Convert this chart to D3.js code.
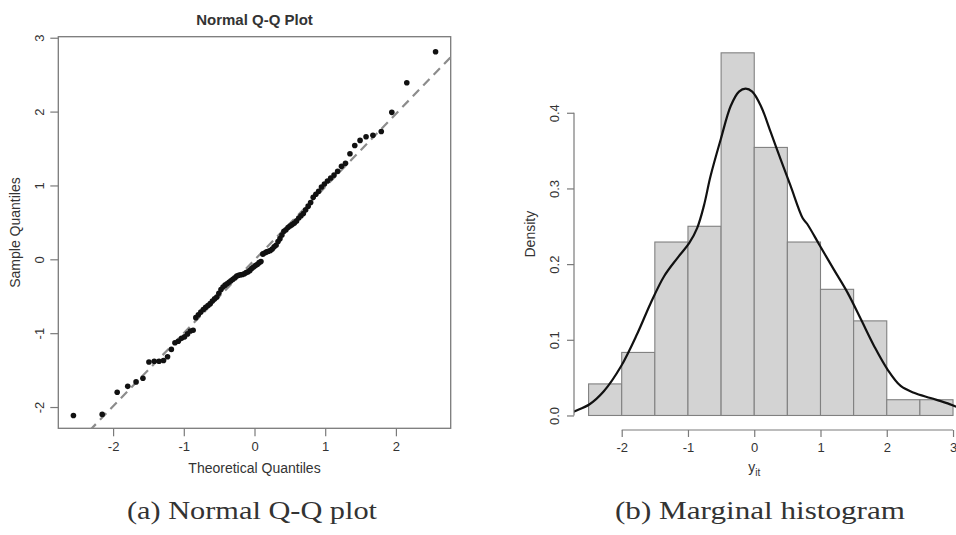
<!DOCTYPE html>
<html>
<head>
<meta charset="utf-8">
<script src="https://cdn.jsdelivr.net/npm/d3@7/dist/d3.min.js"></script>
<style>
  html, body { margin: 0; padding: 0; background: #fff; }
  svg { display: block; }
  text { font-family: "Liberation Sans", Arial, sans-serif; fill: #333; }
</style>
</head>
<body>
<svg id="chart" width="956" height="535"></svg>
<script>
// ---------- data ----------
// Q-Q plot: theoretical quantiles (n = 96)
const qqTheoretical = [
  -2.561, -2.154, -1.942, -1.793, -1.675, -1.578, -1.493, -1.418, -1.350, -1.287,
  -1.230, -1.176, -1.125, -1.078, -1.032, -0.989, -0.947, -0.907, -0.868, -0.830,
  -0.794, -0.759, -0.724, -0.691, -0.658, -0.626, -0.595, -0.564, -0.533, -0.504,
  -0.474, -0.445, -0.416, -0.388, -0.360, -0.333, -0.305, -0.278, -0.251, -0.224,
  -0.197, -0.171, -0.144, -0.118, -0.091, -0.065, -0.039, -0.013,
   0.013,  0.039,  0.065,  0.091,  0.118,  0.144,  0.171,  0.197,  0.224,  0.251,
   0.278,  0.305,  0.333,  0.360,  0.388,  0.416,  0.445,  0.474,  0.504,  0.533,
   0.564,  0.595,  0.626,  0.658,  0.691,  0.724,  0.759,  0.794,  0.830,  0.868,
   0.907,  0.947,  0.989,  1.032,  1.078,  1.125,  1.176,  1.230,  1.287,  1.350,
   1.418,  1.493,  1.578,  1.675,  1.793,  1.942,  2.154,  2.561
];
// Q-Q plot: sample quantiles
const qqSample = [
  -2.115, -2.10, -1.80, -1.72, -1.66, -1.61, -1.39, -1.38, -1.38, -1.37,
  -1.32, -1.22, -1.13, -1.11, -1.07, -1.05, -1.01, -0.97, -0.96, -0.79,
  -0.75, -0.715, -0.68, -0.65, -0.625, -0.60, -0.565, -0.535, -0.51, -0.46,
  -0.41, -0.375, -0.35, -0.33, -0.31, -0.29, -0.27, -0.25, -0.225, -0.215,
  -0.21, -0.205, -0.195, -0.18, -0.17, -0.15, -0.125, -0.105,
  -0.085, -0.07, -0.045, -0.03, 0.07, 0.085, 0.10, 0.11, 0.12, 0.14,
  0.17, 0.19, 0.24, 0.28, 0.33, 0.38, 0.40, 0.43, 0.45, 0.47,
  0.49, 0.52, 0.56, 0.59, 0.62, 0.67, 0.72, 0.77, 0.84, 0.88,
  0.92, 0.98, 1.02, 1.06, 1.10, 1.14, 1.19, 1.26, 1.30, 1.43,
  1.54, 1.61, 1.66, 1.68, 1.73, 1.99, 2.39, 2.81
];
// Q-Q reference line (intercept, slope)
const qqLineIntercept = -0.01;
const qqLineSlope = 0.99;
const qqXTicks = [-2, -1, 0, 1, 2];
const qqYTicks = [-2, -1, 0, 1, 2, 3];

// Histogram
const histEdges = [-2.5, -2, -1.5, -1, -0.5, 0, 0.5, 1, 1.5, 2, 2.5, 3];
const histDensity = [0.0417, 0.0833, 0.2292, 0.25, 0.4792, 0.3542, 0.2292, 0.1667, 0.125, 0.0208, 0.0208];
// Kernel density curve
const densX = [-2.75, -2.71, -2.49, -2.27, -2.01, -1.76, -1.56, -1.36, -1.16, -0.98, -0.86, -0.76,
  -0.66, -0.505, -0.355, -0.23, -0.13, -0.03, 0.10, 0.25, 0.40, 0.55, 0.73, 0.80, 0.98,
  1.20, 1.41, 1.61, 1.81, 2.01, 2.21, 2.41, 2.66, 2.92, 3.05, 3.25];
const densY = [0.004, 0.0057, 0.0145, 0.032, 0.065, 0.109, 0.149, 0.184, 0.208, 0.228, 0.248, 0.277,
  0.316, 0.365, 0.409, 0.428, 0.432, 0.428, 0.409, 0.374, 0.338, 0.303, 0.261, 0.253, 0.226,
  0.193, 0.162, 0.127, 0.0916, 0.061, 0.039, 0.030, 0.023, 0.016, 0.0115, 0.007];
const histXTicks = [-2, -1, 0, 1, 2, 3];
const histYTicks = [0, 0.1, 0.2, 0.3, 0.4];

// ---------- drawing ----------
const svg = d3.select("#chart");
const axisColor = "#7a7a7a";

function styleAxis(g) {
  g.selectAll("path.domain").remove();
  g.selectAll(".tick line").attr("stroke", axisColor).attr("stroke-width", 1.2);
  g.selectAll(".tick text")
    .style("font-family", '"Liberation Sans", Arial, sans-serif')
    .style("font-size", "13px")
    .attr("fill", "#333");
}

// ===== Panel (a): Normal Q-Q plot =====
const xQ = d3.scaleLinear().domain([-2.775, 2.775]).range([58.3, 450.7]);
const yQ = d3.scaleLinear().domain([-2.288, 3.014]).range([428.3, 36.7]);

svg.append("defs").append("clipPath").attr("id", "qqclip")
  .append("rect")
  .attr("x", xQ.range()[0]).attr("y", yQ.range()[1])
  .attr("width", xQ.range()[1] - xQ.range()[0])
  .attr("height", yQ.range()[0] - yQ.range()[1]);

// x axis
const gxQ = svg.append("g")
  .attr("transform", `translate(0,${yQ.range()[0]})`)
  .call(d3.axisBottom(xQ).tickValues(qqXTicks).tickSize(8).tickPadding(5).tickFormat(d3.format("d")));
styleAxis(gxQ);
gxQ.selectAll(".tick text").text(d => d < 0 ? "-" + Math.abs(d) : d);

// y axis
const gyQ = svg.append("g")
  .attr("transform", `translate(${xQ.range()[0]},0)`)
  .call(d3.axisLeft(yQ).tickValues(qqYTicks).tickSize(8).tickFormat(d3.format("d")));
styleAxis(gyQ);
gyQ.selectAll(".tick text")
  .text(d => d < 0 ? "-" + Math.abs(d) : d)
  .attr("x", 0).attr("dy", 0)
  .attr("text-anchor", "middle")
  .attr("transform", "translate(-14,0) rotate(-90)");

// box
svg.append("rect")
  .attr("x", xQ.range()[0]).attr("y", yQ.range()[1])
  .attr("width", xQ.range()[1] - xQ.range()[0])
  .attr("height", yQ.range()[0] - yQ.range()[1])
  .attr("fill", "none").attr("stroke", axisColor).attr("stroke-width", 1.3);

// reference line
const lineDom = xQ.domain();
svg.append("line")
  .attr("clip-path", "url(#qqclip)")
  .attr("x1", xQ(lineDom[0])).attr("y1", yQ(qqLineIntercept + qqLineSlope * lineDom[0]))
  .attr("x2", xQ(lineDom[1])).attr("y2", yQ(qqLineIntercept + qqLineSlope * lineDom[1]))
  .attr("stroke", "#8c8c8c").attr("stroke-width", 2.2)
  .attr("stroke-dasharray", "9,6");

// points
svg.append("g").selectAll("circle")
  .data(qqTheoretical.map((t, i) => [t, qqSample[i]]))
  .join("circle")
  .attr("cx", d => xQ(d[0])).attr("cy", d => yQ(d[1]))
  .attr("r", 2.8).attr("fill", "#111");

// title and labels
svg.append("text")
  .attr("x", (xQ.range()[0] + xQ.range()[1]) / 2).attr("y", 25)
  .attr("text-anchor", "middle")
  .style("font-size", "15px").style("font-weight", "bold").attr("fill", "#222")
  .text("Normal Q-Q Plot");
svg.append("text")
  .attr("x", (xQ.range()[0] + xQ.range()[1]) / 2).attr("y", 473)
  .attr("text-anchor", "middle").style("font-size", "14px")
  .text("Theoretical Quantiles");
svg.append("text")
  .attr("transform", `translate(20,${(yQ.range()[0] + yQ.range()[1]) / 2}) rotate(-90)`)
  .attr("text-anchor", "middle").style("font-size", "14px")
  .text("Sample Quantiles");

// ===== Panel (b): Marginal histogram =====
const xH = d3.scaleLinear().domain([-2.72, 3.22]).range([574, 967.6]);
const yH = d3.scaleLinear().domain([-0.0192, 0.4984]).range([430, 38.3]);

svg.select("defs").append("clipPath").attr("id", "hclip")
  .append("rect")
  .attr("x", xH.range()[0]).attr("y", yH.range()[1])
  .attr("width", xH.range()[1] - xH.range()[0])
  .attr("height", yH.range()[0] - yH.range()[1]);

const bins = histDensity.map((d, i) => ({ x0: histEdges[i], x1: histEdges[i + 1], d }));
svg.append("g").selectAll("rect")
  .data(bins)
  .join("rect")
  .attr("x", b => xH(b.x0)).attr("y", b => yH(b.d))
  .attr("width", b => xH(b.x1) - xH(b.x0))
  .attr("height", b => yH(0) - yH(b.d))
  .attr("fill", "#d3d3d3").attr("stroke", "#808080").attr("stroke-width", 1.1);

// density curve
const densLine = d3.line()
  .x((d, i) => xH(densX[i])).y((d, i) => yH(densY[i]))
  .curve(d3.curveCatmullRom.alpha(0.5));
svg.append("path")
  .attr("clip-path", "url(#hclip)")
  .attr("d", densLine(densX))
  .attr("fill", "none").attr("stroke", "#111").attr("stroke-width", 2.2);

// x axis
const gxH = svg.append("g")
  .attr("transform", `translate(0,${yH.range()[0]})`)
  .call(d3.axisBottom(xH).tickValues(histXTicks).tickSize(7).tickPadding(6).tickFormat(d3.format("d")));
styleAxis(gxH);
gxH.selectAll(".tick text").text(d => d < 0 ? "-" + Math.abs(d) : d);
gxH.append("line")
  .attr("x1", xH(histXTicks[0])).attr("x2", xH(histXTicks[histXTicks.length - 1]))
  .attr("y1", 0).attr("y2", 0)
  .attr("stroke", axisColor).attr("stroke-width", 1.2);

// y axis
const gyH = svg.append("g")
  .attr("transform", `translate(${xH.range()[0]},0)`)
  .call(d3.axisLeft(yH).tickValues(histYTicks).tickSize(7).tickFormat(d3.format(".1f")));
styleAxis(gyH);
gyH.selectAll(".tick text")
  .attr("x", 0).attr("dy", 0)
  .attr("text-anchor", "middle")
  .attr("transform", "translate(-15,0) rotate(-90)");
gyH.append("line")
  .attr("x1", 0).attr("x2", 0)
  .attr("y1", yH(histYTicks[0])).attr("y2", yH(histYTicks[histYTicks.length - 1]))
  .attr("stroke", axisColor).attr("stroke-width", 1.2);

// labels
svg.append("text")
  .attr("transform", `translate(535,${(yH.range()[0] + yH.range()[1]) / 2}) rotate(-90)`)
  .attr("text-anchor", "middle").style("font-size", "14px")
  .text("Density");
const yLab = svg.append("text")
  .attr("x", xH(0)).attr("y", 472)
  .attr("text-anchor", "middle").style("font-size", "14px");
yLab.append("tspan").text("y");
yLab.append("tspan").attr("dy", 4).style("font-size", "10px").text("it");

// ===== Captions =====
svg.append("text")
  .attr("x", 252).attr("y", 519)
  .attr("text-anchor", "middle")
  .attr("textLength", 250).attr("lengthAdjust", "spacingAndGlyphs")
  .style("font-family", '"Liberation Serif", "DejaVu Serif", serif')
  .style("font-size", "26px").attr("fill", "#111")
  .text("(a) Normal Q-Q plot");
svg.append("text")
  .attr("x", 760).attr("y", 519)
  .attr("text-anchor", "middle")
  .attr("textLength", 290).attr("lengthAdjust", "spacingAndGlyphs")
  .style("font-family", '"Liberation Serif", "DejaVu Serif", serif')
  .style("font-size", "26px").attr("fill", "#111")
  .text("(b) Marginal histogram");
</script>
</body>
</html>
